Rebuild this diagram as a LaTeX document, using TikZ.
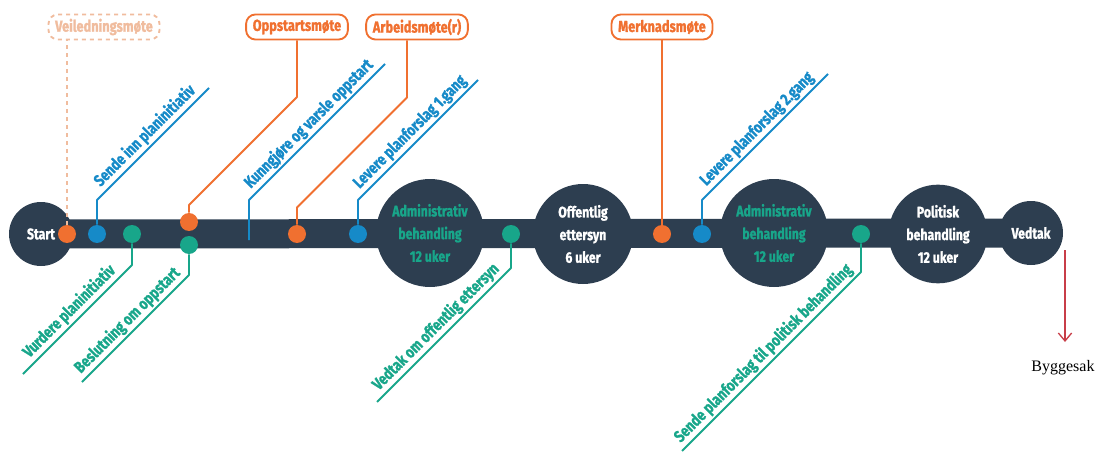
\documentclass[tikz,border=0pt]{standalone}
\usepackage{fontspec}
\setmainfont{Fira Sans}[FakeStretch=0.8,BoldFeatures={FakeBold=1.2}]
\newfontfamily\byggfont{Liberation Serif}
\usetikzlibrary{arrows.meta,backgrounds}
\definecolor{navy}{RGB}{45,62,80}
\definecolor{orangeC}{RGB}{240,112,48}
\definecolor{blueC}{RGB}{22,138,200}
\definecolor{greenC}{RGB}{24,166,138}
\definecolor{peachC}{RGB}{240,188,158}
\definecolor{redC}{RGB}{200,62,72}
\tikzset{
  stage/.style={circle,fill=navy,text=white,inner sep=0pt,align=center,
    font=\bfseries\fontsize{11.5}{17}\selectfont},
  dot/.style={circle,inner sep=0pt,minimum size=13.5pt},
  meeting/.style={draw=orangeC,text=orangeC,line width=1.4pt,rounded corners=7pt,
    minimum height=18.75pt,inner xsep=5pt,inner ysep=0pt,
    font=\bfseries\fontsize{12}{13}\selectfont},
  conn/.style={line width=1.4pt},
  steplabel/.style={midway,sloped,above,inner sep=1.5pt,
    font=\bfseries\fontsize{12.3}{14}\selectfont},
}
\begin{document}
\begin{tikzpicture}[x=0.75pt,y=-0.75pt,line join=bevel]
\useasboundingbox (0,0) rectangle (1097,453);
%% stages
\node (node_start) at (41,234) [stage,minimum size=48pt] {Start};
\node (node_adm1) at (430,233) [stage,minimum size=81pt,text=greenC] {Administrativ\\behandling\\12 uker};
\node (node_off) at (583,234) [stage,minimum size=75pt] {Offentlig\\ettersyn\\6 uker};
\node (node_adm2) at (774,233) [stage,minimum size=81pt,text=greenC] {Administrativ\\behandling\\12 uker};
\node (node_pol) at (938,234) [stage,minimum size=74pt] {Politisk\\behandling\\12 uker};
\node (node_vedtak) at (1031,233) [stage,minimum size=48pt] {Vedtak};
\begin{scope}[on background layer]
  \draw [navy,line width=21.75pt] (node_start.center) -- (node_vedtak.center);
\end{scope}
%% points on the line
\node (dot_1) at (67,234) [dot,fill=orangeC] {};
\node (dot_2) at (97,234) [dot,fill=blueC] {};
\node (dot_3) at (132,234) [dot,fill=greenC] {};
\node (dot_4) at (189,222) [dot,fill=orangeC] {};
\node (dot_5) at (189,245) [dot,fill=greenC] {};
\coordinate (dot_6) at (249,240);
\node (dot_7) at (297,234) [dot,fill=orangeC] {};
\node (dot_8) at (358,234) [dot,fill=blueC] {};
\node (dot_9) at (511,234) [dot,fill=greenC] {};
\node (dot_10) at (662,234) [dot,fill=orangeC] {};
\node (dot_11) at (702,234) [dot,fill=blueC] {};
\node (dot_12) at (861,234) [dot,fill=greenC] {};
%% meetings
\node (node_veil) at (104,27) [meeting,draw=peachC,text=peachC,dashed] {Veiledningsmøte};
\node (node_oppst) at (297,27) [meeting] {Oppstartsmøte};
\node (node_arb) at (417,27) [meeting] {Arbeidsmøte(r)};
\node (node_merk) at (662,27) [meeting] {Merknadsmøte};
\draw [conn,peachC,dashed,line width=1.2pt] (dot_1) -- (dot_1 |- node_veil.south);
\draw [conn,orangeC] (node_oppst) -- ++(0,70) -- ++(-108,108) -- (dot_4);
\draw [conn,orangeC] (node_arb.south) ++(-10,0) -- ++(0,57) -- ++(-110,110) -- (dot_7);
\draw [conn,orangeC] (node_merk) -- (dot_10);
%% steps above
\draw [conn,blueC] (dot_2) -- ++(0,-34) -- ++(112,-112) node[steplabel,text=blueC] {Sende inn planinitiativ};
\draw [conn,blueC] (dot_6) -- ++(0,-40) -- ++(136,-136) node[steplabel,text=blueC] {Kunngjøre og varsle oppstart};
\draw [conn,blueC] (dot_8) -- ++(0,-34) -- ++(120,-120) node[steplabel,text=blueC] {Levere planforslag 1.gang};
\draw [conn,blueC] (dot_11) -- ++(0,-34) -- ++(126,-126) node[steplabel,text=blueC] {Levere planforslag 2.gang};
%% steps below
\draw [conn,greenC] (dot_3) -- ++(0,31) -- ++(-109,109) node[steplabel,text=greenC] {Vurdere planinitiativ};
\draw [conn,greenC] (dot_5) -- ++(0,30) -- ++(-107,107) node[steplabel,text=greenC] {Beslutning om oppstart};
\draw [conn,greenC] (dot_9) -- ++(0,34) -- ++(-134,134) node[steplabel,text=greenC] {Vedtak om offentlig ettersyn};
\draw [conn,greenC] (dot_12) -- ++(0,38) -- ++(-179,179) node[steplabel,text=greenC] {Sende planforslag til politisk behandling};
%% after
\coordinate (node_out) at (1065,250);
\coordinate (node_tip) at (1065,342);
\node (node_bygg) at (1063,368) [font=\byggfont\fontsize{12}{13}\selectfont] {Byggesak};
\draw [redC,line width=1pt,-{Straight Barb[length=6pt,width=10pt]}] (node_out) -- (node_tip);
\end{tikzpicture}
\end{document}
